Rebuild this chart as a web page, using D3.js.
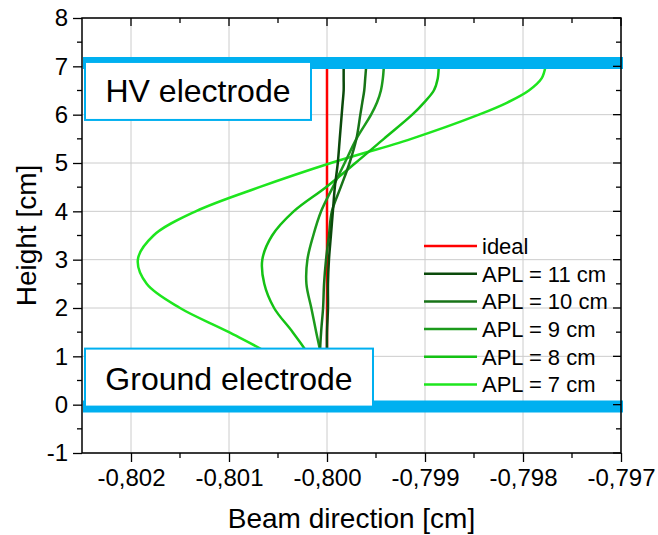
<!DOCTYPE html>
<html>
<head>
<meta charset="utf-8">
<script src="https://cdnjs.cloudflare.com/ajax/libs/d3/7.8.5/d3.min.js"></script>
<style>
  html, body { margin: 0; padding: 0; background: #fff; }
  svg { display: block; font-family: "Liberation Sans", Arial, sans-serif; }
</style>
</head>
<body>
<svg id="chart" width="658" height="535"></svg>
<script>
// ---------- data ----------
const heights = [7, 6.75, 6.5, 6.25, 6, 5.5, 5, 4.5, 4, 3.5, 3, 2.5, 2, 1.5, 1, 0.5, 0];
const ideal   = heights.map(() => -0.8);
const apl11 = [-0.79983, -0.79983, -0.79983, -0.79984, -0.79985, -0.79987, -0.79989, -0.79992, -0.79994, -0.79996, -0.79998, -0.79999, -0.79999, -0.80000, -0.80000, -0.80000, -0.80000];
const apl10 = [-0.79960, -0.79961, -0.79962, -0.79964, -0.79966, -0.79970, -0.79977, -0.79986, -0.79995, -0.79998, -0.80001, -0.80003, -0.80004, -0.80006, -0.80007, -0.80004, -0.80001];
const apl9  = [-0.79942, -0.79943, -0.79945, -0.79949, -0.79955, -0.79970, -0.79982, -0.79994, -0.80006, -0.80014, -0.80020, -0.80021, -0.80016, -0.80011, -0.80006, -0.80003, -0.80001];
const apl8  = [-0.79886, -0.79887, -0.79891, -0.79901, -0.79913, -0.79942, -0.79971, -0.80001, -0.80034, -0.80056, -0.80066, -0.80064, -0.80054, -0.80035, -0.80018, -0.80008, -0.80002];
const apl7  = [-0.79777, -0.79781, -0.79794, -0.79816, -0.79845, -0.79914, -0.79996, -0.80069, -0.80134, -0.80177, -0.80193, -0.80184, -0.80150, -0.80100, -0.80055, -0.80025, -0.80005];

const seriesNames  = ["ideal", "APL = 11 cm", "APL = 10 cm", "APL = 9 cm", "APL = 8 cm", "APL = 7 cm"];
const seriesValues = [ideal, apl11, apl10, apl9, apl8, apl7];
const seriesColors = ["#ff0000", "#0b4a0b", "#177317", "#1c9a1c", "#14c214", "#1ee61e"];

const xTicks = [-0.802, -0.801, -0.800, -0.799, -0.798, -0.797];
const xTickLabels = ["-0,802", "-0,801", "-0,800", "-0,799", "-0,798", "-0,797"];
const xMinorTicks = [-0.8015, -0.8005, -0.7995, -0.7985, -0.7975];
const yTicks = [-1, 0, 1, 2, 3, 4, 5, 6, 7, 8];
const yTickLabels = ["-1", "0", "1", "2", "3", "4", "5", "6", "7", "8"];
const yMinorTicks = [-0.5, 0.5, 1.5, 2.5, 3.5, 4.5, 5.5, 6.5, 7.5];

const electrodeNames = ["HV electrode", "Ground electrode"];
const electrodeHeights = [7.07, -0.04];

const xTitle = "Beam direction [cm]";
const yTitle = "Height [cm]";

// ---------- layout ----------
const svg = d3.select("#chart");
const M = { left: 82, top: 18, right: 37, bottom: 82 };
const W = 658 - M.left - M.right;   // 539
const H = 535 - M.top - M.bottom;   // 435

const x = d3.scaleLinear().domain([-0.8025, -0.797]).range([0, W]);
const y = d3.scaleLinear().domain([-1, 8]).range([H, 0]);

const g = svg.append("g").attr("transform", `translate(${M.left},${M.top})`);

// grid
g.append("g").selectAll("line").data(xTicks).join("line")
  .attr("x1", d => x(d)).attr("x2", d => x(d)).attr("y1", 0).attr("y2", H)
  .attr("stroke", "#cccccc").attr("stroke-width", 1);
g.append("g").selectAll("line").data(yTicks).join("line")
  .attr("y1", d => y(d)).attr("y2", d => y(d)).attr("x1", 0).attr("x2", W)
  .attr("stroke", "#cccccc").attr("stroke-width", 1);

// curves
const line = d3.line().curve(d3.curveCatmullRom.alpha(0.5))
  .x(d => x(d[0])).y(d => y(d[1]));
const drawOrder = [0, 5, 4, 3, 2, 1];
drawOrder.forEach(i => {
  const pts = seriesValues[i].map((v, k) => [v, heights[k]]);
  g.append("path").attr("d", line(pts))
    .attr("fill", "none").attr("stroke", seriesColors[i])
    .attr("stroke-width", 2.5)
    .attr("stroke-linejoin", "round");
});

// electrode bands
const blue = "#00b0f0";
g.append("g").selectAll("line").data(electrodeHeights).join("line")
  .attr("x1", 1).attr("x2", W + 2)
  .attr("y1", d => y(d)).attr("y2", d => y(d))
  .attr("stroke", blue).attr("stroke-width", 12);

// electrode label boxes
const boxes = [
  { x0: 3, y0: y(electrodeHeights[0]) - 1, w: 226, h: 58, baseline: 40 },
  { x0: 3, y0: y(electrodeHeights[1]) - 58, w: 288, h: 58, baseline: 41 }
];
boxes.forEach((b, i) => {
  g.append("rect").attr("x", b.x0).attr("y", b.y0).attr("width", b.w).attr("height", b.h)
    .attr("fill", "#fff").attr("stroke", blue).attr("stroke-width", 2);
  g.append("text").attr("x", b.x0 + b.w / 2).attr("y", b.y0 + b.baseline)
    .attr("text-anchor", "middle").attr("font-size", 32).attr("fill", "#000")
    .text(electrodeNames[i]);
});

// legend
const legX = 424 - M.left, legY0 = 246 - M.top, legDy = 27.7;
seriesNames.forEach((name, i) => {
  const yy = legY0 + i * legDy;
  g.append("line").attr("x1", legX).attr("x2", legX + 53).attr("y1", yy).attr("y2", yy)
    .attr("stroke", seriesColors[i]).attr("stroke-width", 2.5);
  g.append("text").attr("x", legX + 58).attr("y", yy).attr("dy", "0.36em")
    .attr("font-size", 22).attr("fill", "#000").text(name);
});

// axes
const tickW = 1.3;
const xAxisB = d3.axisBottom(x).tickValues(xTicks).tickSize(9).tickPadding(7)
  .tickFormat((d, i) => xTickLabels[i]);
const gx = g.append("g").attr("transform", `translate(0,${H})`).call(xAxisB);
gx.selectAll("text").attr("font-size", 24).attr("fill", "#000").attr("font-family", "Liberation Sans, Arial, sans-serif");
gx.selectAll("line").attr("stroke", "#000").attr("stroke-width", tickW);
gx.select(".domain").remove();
g.append("g").attr("transform", `translate(0,${H})`).selectAll("line").data(xMinorTicks).join("line")
  .attr("x1", d => x(d)).attr("x2", d => x(d)).attr("y1", 0).attr("y2", 5)
  .attr("stroke", "#000").attr("stroke-width", tickW);

const yAxisL = d3.axisLeft(y).tickValues(yTicks).tickSize(9).tickPadding(5)
  .tickFormat((d, i) => yTickLabels[i]);
const gy = g.append("g").call(yAxisL);
gy.selectAll("text").attr("font-size", 24).attr("fill", "#000").attr("font-family", "Liberation Sans, Arial, sans-serif");
gy.selectAll("line").attr("stroke", "#000").attr("stroke-width", tickW);
gy.select(".domain").remove();
g.append("g").selectAll("line").data(yMinorTicks).join("line")
  .attr("x1", -5).attr("x2", 0).attr("y1", d => y(d)).attr("y2", d => y(d))
  .attr("stroke", "#000").attr("stroke-width", tickW);

// mirrored inward ticks (top / right)
g.append("g").selectAll("line").data(xTicks).join("line")
  .attr("x1", d => x(d)).attr("x2", d => x(d)).attr("y1", 0).attr("y2", 8)
  .attr("stroke", "#000").attr("stroke-width", tickW);
g.append("g").selectAll("line").data(xMinorTicks).join("line")
  .attr("x1", d => x(d)).attr("x2", d => x(d)).attr("y1", 0).attr("y2", 5)
  .attr("stroke", "#000").attr("stroke-width", tickW);
g.append("g").selectAll("line").data(yTicks).join("line")
  .attr("x1", W - 8).attr("x2", W).attr("y1", d => y(d)).attr("y2", d => y(d))
  .attr("stroke", "#000").attr("stroke-width", tickW);
g.append("g").selectAll("line").data(yMinorTicks).join("line")
  .attr("x1", W - 5).attr("x2", W).attr("y1", d => y(d)).attr("y2", d => y(d))
  .attr("stroke", "#000").attr("stroke-width", tickW);

// frame
g.append("rect").attr("x", 0).attr("y", 0).attr("width", W).attr("height", H)
  .attr("fill", "none").attr("stroke", "#000").attr("stroke-width", 1.5);

// titles
svg.append("text").attr("x", M.left + W / 2).attr("y", 528)
  .attr("text-anchor", "middle").attr("font-size", 28).attr("fill", "#000").text(xTitle);
svg.append("text").attr("transform", `translate(36,${M.top + H / 2}) rotate(-90)`)
  .attr("text-anchor", "middle").attr("font-size", 28).attr("fill", "#000").text(yTitle);
</script>
</body>
</html>
